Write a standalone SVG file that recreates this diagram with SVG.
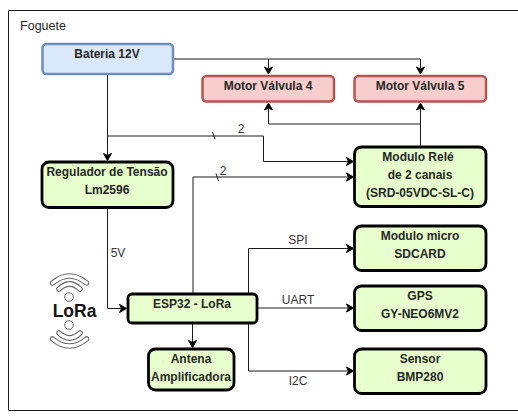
<svg xmlns="http://www.w3.org/2000/svg" width="518" height="416" viewBox="0 0 518 416">
<style>
text{font-family:"Liberation Sans",Arial,sans-serif;font-size:12px;fill:#262626;text-anchor:middle}
.b{font-weight:bold}
.g rect{fill:#e6ffcc;stroke:#000;stroke-width:2.800}
.r rect{fill:#f8cecc;stroke:#b85450;stroke-width:2.500}
.c path{fill:none;stroke:#1a1a1a;stroke-width:1}
.l text{fill:#333}
.o{fill:none;stroke:#666;stroke-width:5.500;stroke-linecap:round}
.w{fill:none;stroke:#fff;stroke-width:3.500;stroke-linecap:round}
</style>
<defs>
<marker id="a" markerUnits="userSpaceOnUse" markerWidth="10" markerHeight="10" refX="8" refY="5" orient="auto"><path d="M1 1L8 5L1 9L3 5Z" fill="#000" stroke="#000" stroke-width="1"/></marker>
<path id="w1" d="M52.500 283Q69.500 269 86.500 283"/>
<path id="w2" d="M59 289Q69.500 279 80 289"/>
</defs>
<path d="M518 10.500H8.500V410.500H518" fill="none" stroke="#1a1a1a" stroke-width="1"/>
<text x="43" y="30" style="font-size:12.500px">Foguete</text>
<g class="c" id="connectors">
<path d="M174 59H420.500V74" marker-end="url(#a)"/>
<path d="M268.500 59V74" marker-end="url(#a)"/>
<path d="M107.500 75V160.500" marker-end="url(#a)"/>
<path d="M107.500 136H263.500V161.500H353.500" marker-end="url(#a)"/>
<path d="M212.500 132L215 139"/>
<path d="M193 294V177H353.500" marker-end="url(#a)"/>
<path d="M216 173.500L218.500 181"/>
<path d="M420.500 146V103" marker-end="url(#a)"/>
<path d="M420.500 124H268.500V103" marker-end="url(#a)"/>
<path d="M107.500 208V308.500H126.500" marker-end="url(#a)"/>
<path d="M192.500 323V347.500" marker-end="url(#a)"/>
<path d="M248.500 294V248.500H353.500" marker-end="url(#a)"/>
<path d="M258 308H353.500" marker-end="url(#a)"/>
<path d="M248.500 323V371H353.500" marker-end="url(#a)"/>
</g>
<g class="l">
<text x="241" y="133">2</text>
<text x="223" y="175">2</text>
<text x="118" y="257">5V</text>
<text x="298" y="244">SPI</text>
<text x="298" y="304">UART</text>
<text x="298" y="385">I2C</text>
</g>
<g id="bateria"><rect x="42.500" y="44" width="130.500" height="30" rx="4" fill="#dae8fc" stroke="#6c8ebf" stroke-width="2.500"/><text class="b" x="107" y="58">Bateria 12V</text></g>
<g id="motor4" class="r"><rect x="202.500" y="76" width="131.500" height="25.500" rx="4"/><text class="b" x="268" y="90">Motor Válvula 4</text></g>
<g id="motor5" class="r"><rect x="354.500" y="76" width="131.500" height="25.500" rx="4"/><text class="b" x="420" y="90">Motor Válvula 5</text></g>
<g id="regulador" class="g"><rect x="42" y="162" width="131" height="45.500" rx="7"/><text class="b" x="107" y="176">Regulador de Tensão</text><text class="b" x="107" y="194">Lm2596</text></g>
<g id="rele" class="g"><rect x="354.500" y="147" width="131.500" height="59.500" rx="7"/><text class="b" x="418" y="161">Modulo Relé</text><text class="b" x="420" y="179">de 2 canais</text><text class="b" x="420" y="197">(SRD-05VDC-SL-C)</text></g>
<g id="esp32" class="g"><rect x="128" y="294" width="129" height="29" rx="4"/><text class="b" x="192" y="308">ESP32 - LoRa</text></g>
<g id="antena" class="g"><rect x="148.500" y="349" width="85.500" height="41" rx="7"/><text class="b" x="191" y="363">Antena</text><text class="b" x="191" y="381">Amplificadora</text></g>
<g id="sdcard" class="g"><rect x="354.500" y="226" width="131.500" height="44.500" rx="7"/><text class="b" x="420" y="240">Modulo micro</text><text class="b" x="420" y="258">SDCARD</text></g>
<g id="gps" class="g"><rect x="354.500" y="286" width="131.500" height="44.500" rx="7"/><text class="b" x="420" y="300">GPS</text><text class="b" x="420" y="318">GY-NEO6MV2</text></g>
<g id="sensor" class="g"><rect x="354.500" y="349" width="131.500" height="44.500" rx="7"/><text class="b" x="420" y="363">Sensor</text><text class="b" x="420" y="381">BMP280</text></g>
<g id="lora">
<use href="#w1" class="o"/><use href="#w1" class="w"/><use href="#w2" class="o"/><use href="#w2" class="w"/>
<circle cx="69" cy="297" r="4.300" fill="#fff" stroke="#666" stroke-width="1"/>
<g transform="matrix(1 0 0 -1 0 622)"><use href="#w1" class="o"/><use href="#w1" class="w"/><use href="#w2" class="o"/><use href="#w2" class="w"/>
<circle cx="69" cy="297" r="4.300" fill="#fff" stroke="#666" stroke-width="1"/></g>
<text x="74.500" y="317" class="b" style="font-size:17.500px;fill:#111">LoRa</text>
</g>
</svg>
